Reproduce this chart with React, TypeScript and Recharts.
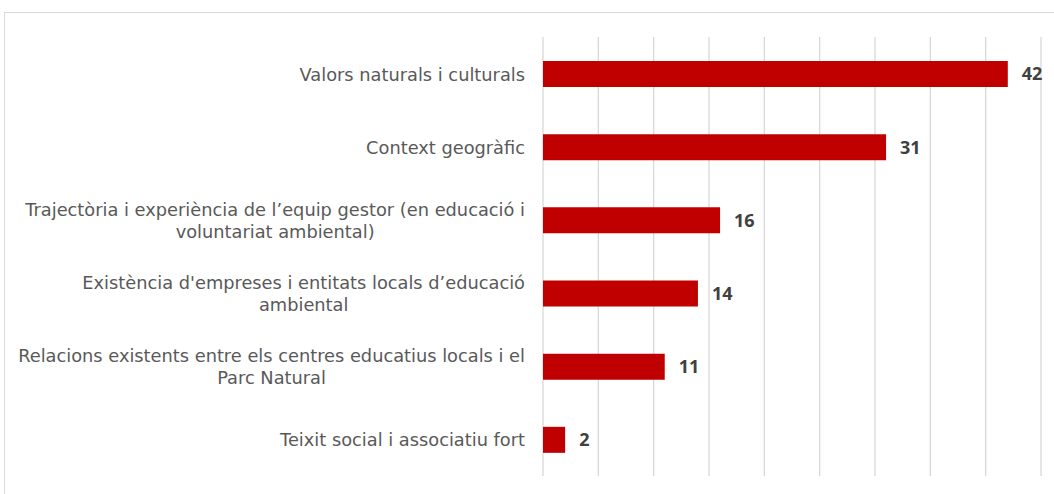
import React from 'react';
import { BarChart, Bar, XAxis, YAxis, CartesianGrid, LabelList } from 'recharts';

const categories: string[][] = [
  ['Valors naturals i culturals'],
  ['Context geogràfic'],
  ['Trajectòria i experiència de l’equip gestor (en educació i', 'voluntariat ambiental)'],
  ['Existència d\'empreses i entitats locals d’educació', 'ambiental'],
  ['Relacions existents entre els centres educatius locals i el', 'Parc Natural'],
  ['Teixit social i associatiu fort'],
];
const values: number[] = [42, 31, 16, 14, 11, 2];
const xTicks: number[] = [0, 5, 10, 15, 20, 25, 30, 35, 40, 45];

const data = categories.map((lines, i) => ({ name: lines.join('\n'), value: values[i] }));

const LABEL_FONT = '"DejaVu Sans", sans-serif';
const LABEL_FONT_SIZE = 17.8;
const VALUE_FONT = '"Open Sans", sans-serif';

let ctx: CanvasRenderingContext2D | null = null;
function measure(s: string): number {
  if (!ctx) {
    const c = document.createElement('canvas');
    ctx = c.getContext('2d');
  }
  if (!ctx) return s.length * 9;
  ctx.font = `${LABEL_FONT_SIZE}px "DejaVu Sans"`;
  return ctx.measureText(s).width;
}

const CategoryTick = (props: any) => {
  const { x, y, payload } = props;
  const lines: string[] = String(payload.value).split('\n');
  const w = Math.max(...lines.map(measure));
  const cx = x - w / 2;
  const lh = 22;
  const startY = y + 7 - ((lines.length - 1) * lh) / 2;
  return (
    <text
      x={cx}
      y={startY}
      textAnchor="middle"
      fill="#595959"
      fontFamily={LABEL_FONT}
      fontSize={LABEL_FONT_SIZE}
    >
      {lines.map((l, i) => (
        <tspan key={i} x={cx} dy={i === 0 ? 0 : lh}>
          {l}
        </tspan>
      ))}
    </text>
  );
};

export default function App() {
  return (
    <div style={{ position: 'absolute', left: 0, top: 0, width: 1054, height: 494, background: '#fff', overflow: 'hidden' }}>
      <div
        style={{
          position: 'absolute',
          left: 4,
          top: 12,
          width: 1100,
          height: 600,
          border: '1px solid #d9d9d9',
          boxSizing: 'border-box',
        }}
      />
      <div style={{ position: 'absolute', left: 0, top: 0 }}>
        <BarChart
          width={1054}
          height={494}
          data={data}
          layout="vertical"
          margin={{ top: 37, right: 13, bottom: 18, left: 0 }}
          barSize={26}
        >
          <CartesianGrid horizontal={false} vertical={true} stroke="#d9d9d9" strokeWidth={1.3} />
          <XAxis type="number" domain={[0, 45]} ticks={xTicks} hide />
          <YAxis
            type="category"
            dataKey="name"
            width={543}
            axisLine={false}
            tickLine={false}
            tickSize={0}
            tickMargin={18}
            tick={<CategoryTick />}
            interval={0}
          />
          <Bar dataKey="value" fill="#C00000" isAnimationActive={false}>
            <LabelList
              dataKey="value"
              position="right"
              offset={14}
              fill="#404040"
              fontFamily={VALUE_FONT}
              fontSize={18}
              fontWeight="bold"
            />
          </Bar>
        </BarChart>
      </div>
    </div>
  );
}
